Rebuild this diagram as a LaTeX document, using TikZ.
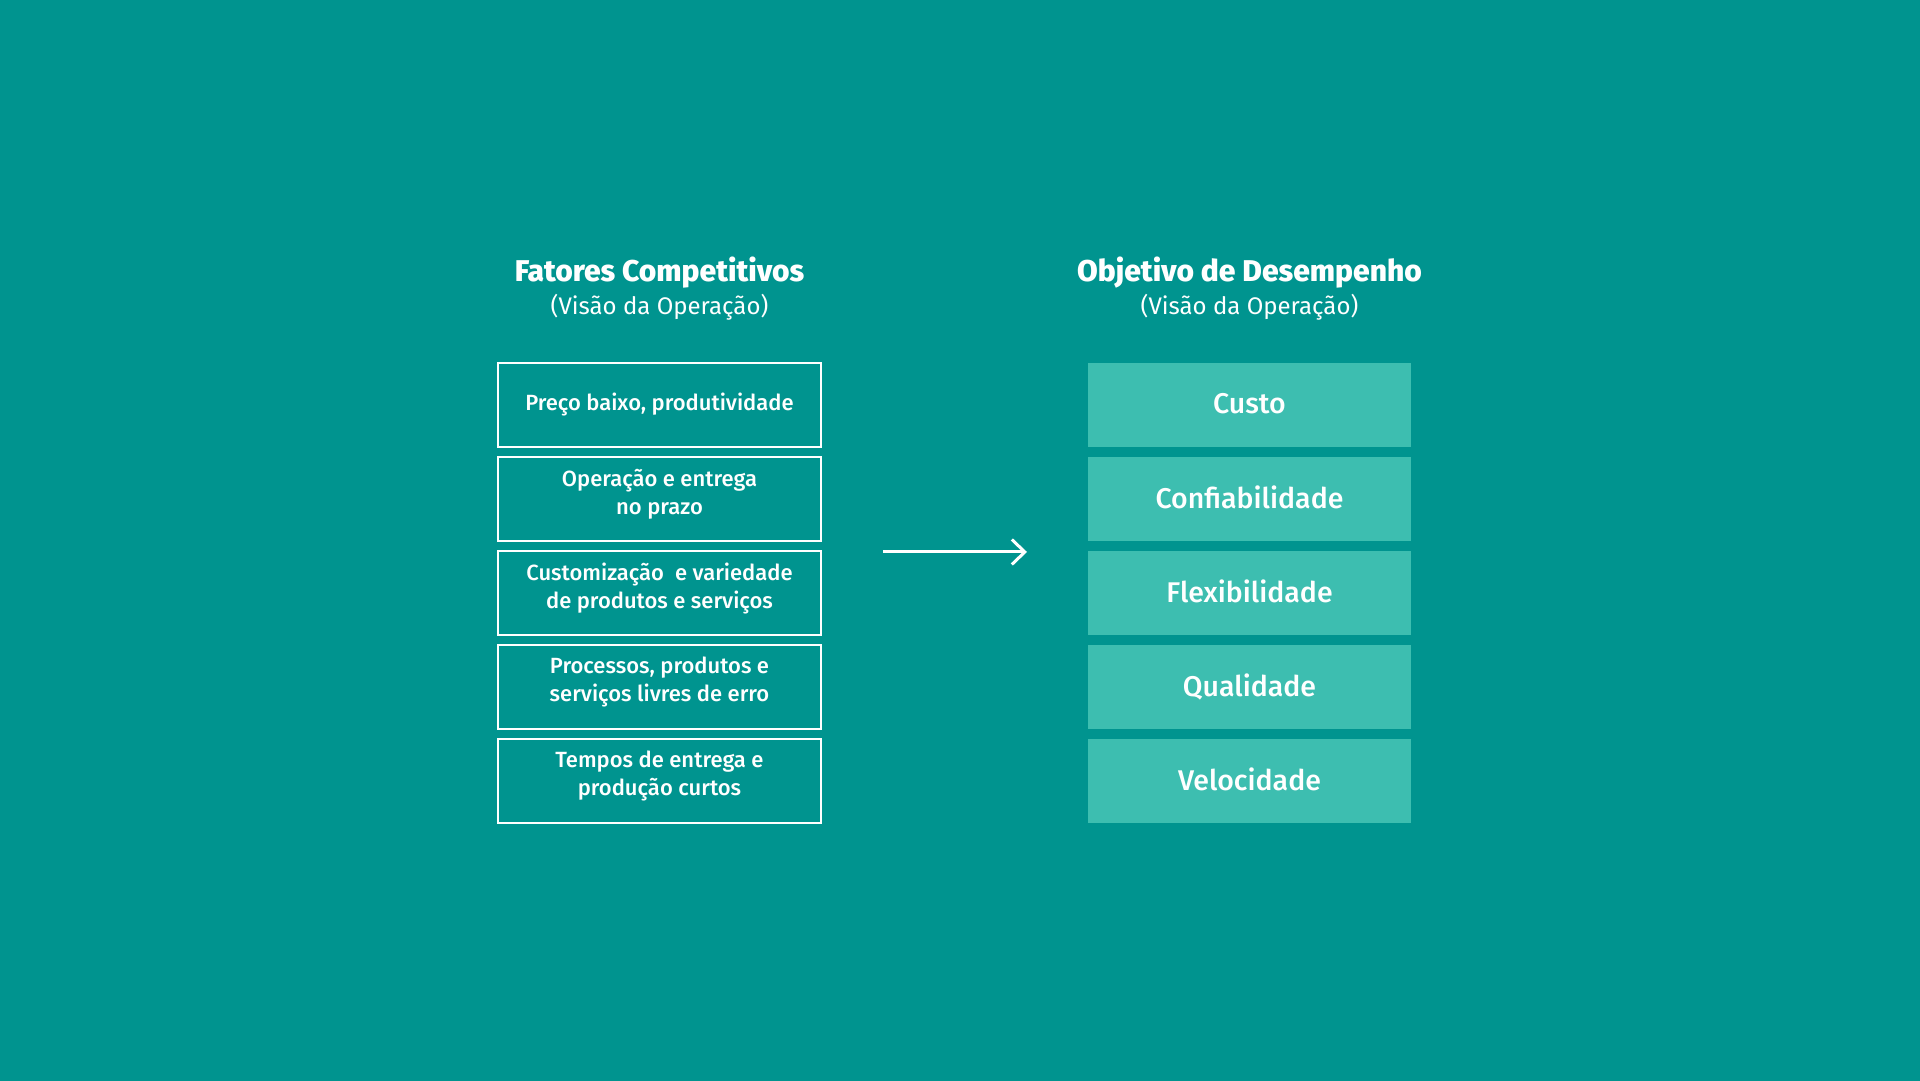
\documentclass[tikz,border=0pt]{standalone}
\usepackage{fontspec}
\setmainfont{Fira Sans}
\newfontfamily\medio{Fira Sans Medium}
\newfontfamily\pesado{Fira Sans ExtraBold}
\usetikzlibrary{arrows.meta}

\definecolor{bgteal}{RGB}{0,148,143}
\definecolor{boxteal}{RGB}{61,190,176}

\tikzset{
  fator/.style={draw=white, line width=1.2pt, minimum width=323pt, minimum height=84pt,
    inner sep=0pt, align=center, text=white, font=\medio\fontsize{22}{28}\selectfont},
  duaslinhas/.style={text depth=15pt},
  objetivo/.style={fill=boxteal, minimum width=323pt, minimum height=84pt,
    inner sep=0pt, align=center, text=white, text depth=4pt, font=\medio\fontsize{28.5}{34}\selectfont},
  titulo/.style={text=white, inner sep=0pt, font=\pesado\fontsize{30}{32}\selectfont},
  subtitulo/.style={text=white, inner sep=0pt, font=\fontsize{24}{28}\selectfont}
}

\begin{document}
\begin{tikzpicture}

% The background
\fill[bgteal] (0,0) rectangle (1920pt,1081pt);
\useasboundingbox (0,0) rectangle (1920pt,1081pt);

% The titles
\node[titulo] (tfatores) at (659.5pt,808pt) {Fatores Competitivos};
\node[subtitulo] (sfatores) at (659.5pt,774pt) {(Visão da Operação)};
\node[titulo] (tobjetivo) at (1249.5pt,808pt) {Objetivo de Desempenho};
\node[subtitulo] (sobjetivo) at (1249.5pt,774pt) {(Visão da Operação)};

% The competitive factors
\node[fator] (preco) at (659.5pt,676pt) {Preço baixo, produtividade};
\node[fator, duaslinhas] (entrega) at (659.5pt,582pt) {Operação e entrega\\no prazo};
\node[fator, duaslinhas] (custom) at (659.5pt,488pt) {Customização \ e variedade\\de produtos e serviços};
\node[fator, duaslinhas] (processos) at (659.5pt,394pt) {Processos, produtos e\\serviços livres de erro};
\node[fator, duaslinhas] (tempos) at (659.5pt,300pt) {Tempos de entrega e\\produção curtos};

% The performance objectives
\node[objetivo] (custo) at (1249.5pt,676pt) {Custo};
\node[objetivo] (confiab) at (1249.5pt,582pt) {Confiabilidade};
\node[objetivo] (flexib) at (1249.5pt,488pt) {Flexibilidade};
\node[objetivo] (qualid) at (1249.5pt,394pt) {Qualidade};
\node[objetivo] (veloc) at (1249.5pt,300pt) {Velocidade};

% The arrow
\coordinate (setaini) at (883pt,529pt);
\coordinate (setafim) at (1027pt,529pt);
\draw[white, line width=3pt, -{Straight Barb[length=13pt,width=25pt,line width=3pt]}] (setaini) -- (setafim);

\end{tikzpicture}
\end{document}
